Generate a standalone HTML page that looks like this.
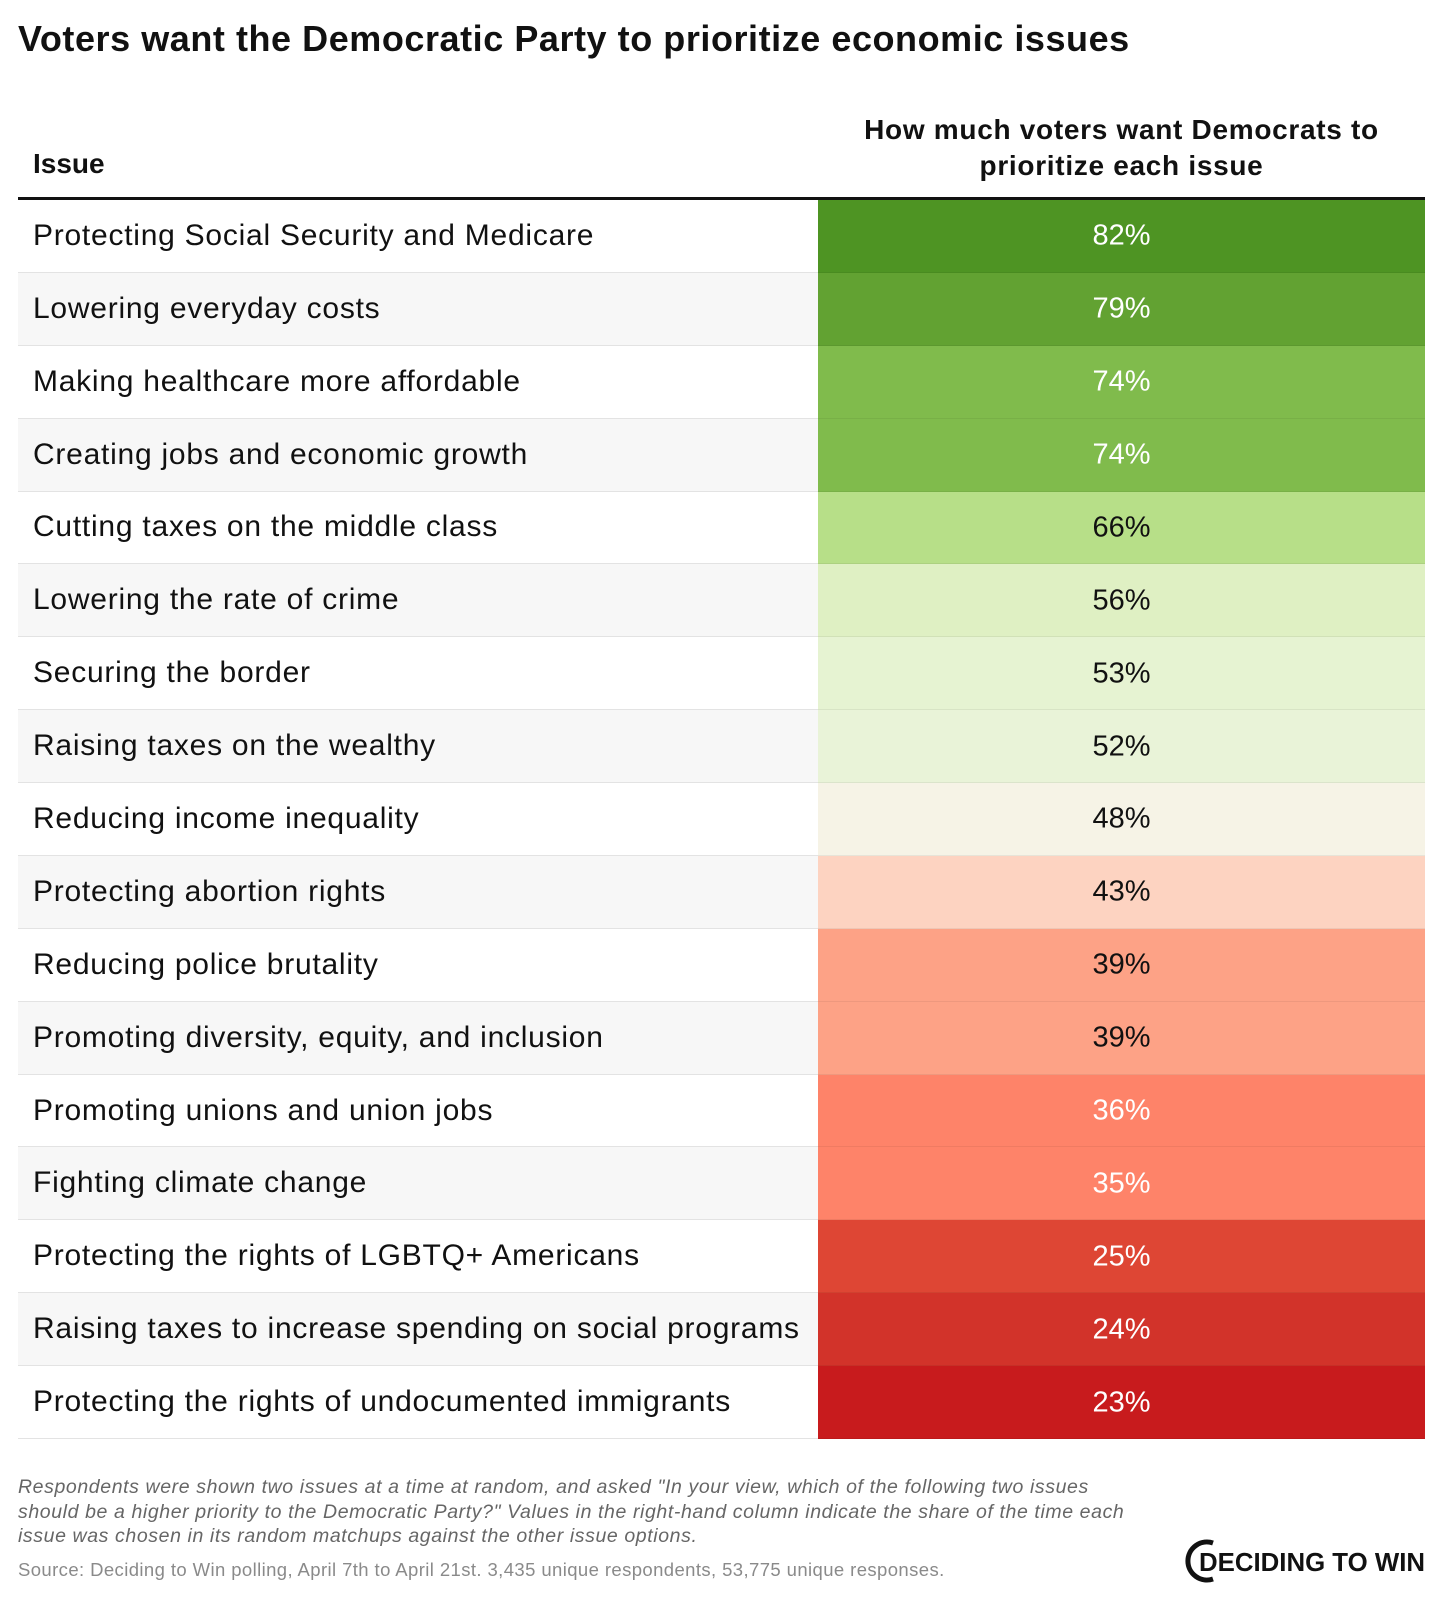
<!DOCTYPE html>
<html><head><meta charset="utf-8">
<style>
html,body{margin:0;padding:0;background:#fff;}
body{width:1442px;height:1600px;position:relative;overflow:hidden;font-family:"Liberation Sans",Arial,sans-serif;color:#111;}
#title{position:absolute;left:18px;top:18px;font-size:36px;font-weight:bold;letter-spacing:0.55px;white-space:nowrap;}
#hdr-issue{position:absolute;left:33px;top:148px;font-size:28px;font-weight:bold;}
#hdr-val{position:absolute;left:818px;width:607px;top:112px;font-size:28px;font-weight:bold;text-align:center;line-height:36px;letter-spacing:0.7px;}
#hline{position:absolute;left:18px;width:1407px;top:197px;height:3px;background:#111;}
.row{position:absolute;left:18px;width:1407px;}
.lab{position:absolute;left:0;width:800px;top:0;bottom:0;border-bottom:1px solid #e3e3e3;box-sizing:border-box;}
.lab span{position:absolute;left:15px;top:50%;transform:translateY(-50%);font-size:30px;letter-spacing:0.75px;white-space:nowrap;}
.val{position:absolute;left:800px;width:607px;top:0;bottom:0;text-align:center;font-size:29px;box-shadow:inset 0 -1px 0 rgba(0,0,0,0.06);}
.val span{position:absolute;left:0;right:0;top:50%;transform:translateY(-50%);}
#note{position:absolute;left:18px;top:1475px;font-size:19.5px;font-style:italic;color:#666;line-height:24.5px;white-space:nowrap;letter-spacing:0.6px;}
#source{position:absolute;left:18px;top:1559px;font-size:18.5px;color:#8a8a8a;white-space:nowrap;letter-spacing:0.4px;}
#logo{position:absolute;left:1183px;top:1538px;width:245px;height:46px;}
</style></head>
<body>
<div id="title">Voters want the Democratic Party to prioritize economic issues</div>
<div id="hdr-issue">Issue</div>
<div id="hdr-val">How much voters want Democrats to<br>prioritize each issue</div>
<div id="hline"></div>
<div id="rows"></div>
<div id="note">Respondents were shown two issues at a time at random, and asked "In your view, which of the following two issues<br>should be a higher priority to the Democratic Party?" Values in the right-hand column indicate the share of the time each<br>issue was chosen in its random matchups against the other issue options.</div>
<div id="source">Source: Deciding to Win polling, April 7th to April 21st. 3,435 unique respondents, 53,775 unique responses.</div>
<svg id="logo" viewBox="0 0 245 46">
<path d="M30 5 A19 19 0 1 0 30 41" fill="none" stroke="#111" stroke-width="5"/>
<text x="16" y="33" font-family="Liberation Sans, sans-serif" font-weight="bold" font-size="26" fill="#111" textLength="226" lengthAdjust="spacingAndGlyphs">DECIDING TO WIN</text>
</svg>
<script>
const issues=["Protecting Social Security and Medicare","Lowering everyday costs","Making healthcare more affordable","Creating jobs and economic growth","Cutting taxes on the middle class","Lowering the rate of crime","Securing the border","Raising taxes on the wealthy","Reducing income inequality","Protecting abortion rights","Reducing police brutality","Promoting diversity, equity, and inclusion","Promoting unions and union jobs","Fighting climate change","Protecting the rights of LGBTQ+ Americans","Raising taxes to increase spending on social programs","Protecting the rights of undocumented immigrants"];
const values=[82,79,74,74,66,56,53,52,48,43,39,39,36,35,25,24,23];
const stopVals=[23,24,25,35,36,39,43,48,52,53,56,66,74,79,82];
const stopCols=["#c81b1d","#d2332a","#de4634","#fe8369","#fe8369","#fda286","#fdd3c1","#f6f3e6","#e9f3d8","#e6f3d2","#dff0c3","#b7df88","#80bb4c","#62a232","#4e9423"];
function hex(c){return [1,3,5].map(i=>parseInt(c.substr(i,2),16));}
function colorFor(v){
  if(v<=stopVals[0])return stopCols[0];
  for(let i=1;i<stopVals.length;i++){
    if(v<=stopVals[i]){
      const t=(v-stopVals[i-1])/(stopVals[i]-stopVals[i-1]||1);
      const a=hex(stopCols[i-1]),b=hex(stopCols[i]);
      return "rgb("+a.map((x,k)=>Math.round(x+(b[k]-x)*t)).join(",")+")";
    }
  }
  return stopCols[stopCols.length-1];
}
const top0=200,rowH=(1439-200)/issues.length;
const body=document.getElementById('rows');
issues.forEach((name,i)=>{
  const r=document.createElement('div');
  r.className='row';
  
  
  r.style.top=(top0+i*rowH)+'px';r.style.height=rowH+'px';
  const l=document.createElement('div');l.className='lab';
  
  
  l.style.background=i%2?'#f7f7f7':'#fff';
  l.innerHTML='<span>'+name+'</span>';
  const v=document.createElement('div');v.className='val';
  
  
  const val=values[i];
  v.style.background=colorFor(val);
  v.style.color=(val>=70||val<=37)?'#fff':'#111';
  v.innerHTML='<span>'+val+'%</span>';
  r.appendChild(l);r.appendChild(v);body.appendChild(r);
});
</script>
</body></html>
